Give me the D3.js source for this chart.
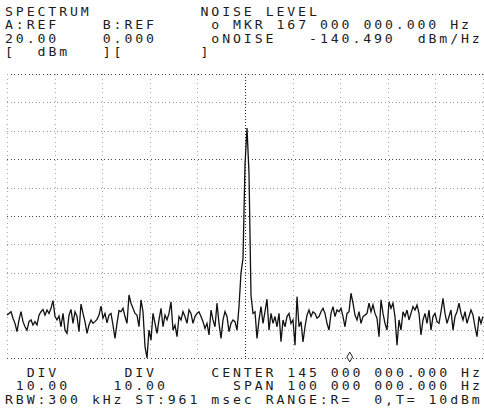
<!DOCTYPE html>
<html>
<head>
<meta charset="utf-8">
<script src="https://cdn.jsdelivr.net/npm/d3@7"></script>
<style>
  body { margin: 0; background: #fff; }
  text { font-family: "DejaVu Sans Mono", monospace; font-size: 11.5px; fill: #1c1c1c; letter-spacing: 2.5px; }
</style>
</head>
<body>
<div id="chart"></div>
<script>
// instrument settings
var centerMHz = 145, spanMHz = 100, refLevelDbm = 20, dbPerDiv = 10, nDiv = 10;
var markerMHz = 167;

// trace levels (dBm), evenly spaced across the span, left to right
var noiseSeg1 = [-64.9,-64.3,-63.7,-66.0,-67.8,-70.7,-66.6,-63.7,-67.2,-69.0,
    -70.2,-67.2,-66.6,-68.4,-67.2,-68.4,-64.9,-63.7,-62.9,-64.9,
    -63.1,-64.3,-62.5,-59.8,-65.4,-66.6,-65.2,-69.0,-64.3,-70.2,
    -71.3,-64.9,-62.9,-67.8,-63.7,-65.4,-70.7,-61.0,-64.3,-67.2,
    -71.3,-68.4,-66.6,-67.8,-67.2,-66.4,-64.9,-61.7,-66.0,-64.3,
    -67.6,-64.9,-64.3,-68.4,-73.1,-67.8,-63.3];
var noiseSeg2 = [-63.7,-62.5,-65.4,-67.8,-57.8,-60.7,-62.5,-64.3,-64.9,-69.0,
    -59.5,-63.7,-76.0,-80.0,-70.2,-73.7,-64.3,-67.8,-71.3,-66.6,
    -62.5,-69.0,-64.9,-66.6,-64.3,-60.2,-70.2,-68.4,-72.5,-65.4,
    -66.6,-63.7,-65.4,-67.8,-63.1,-64.3,-67.8,-65.4,-64.3,-63.7,
    -65.4,-67.2,-69.6,-67.8,-71.9,-63.1,-66.6,-69.0,-60.7,-67.8,
    -73.1,-66.6,-63.7,-65.4,-70.7,-67.8,-66.6,-67.2,-70.2,-61.9,
    -50.0];
var peakSeg = [-45, -12, 1, -15, -58];
var noiseSeg3 = [-64.3,-63.7,-73.1,-66.6,-61.9,-67.8,-63.7,-59.3,-70.2,-64.3,
    -67.8,-65.4,-69.0,-64.3,-74.3,-66.6,-69.0,-65.4,-64.3,-67.8,
    -66.6,-75.5,-58.4,-69.0,-67.2,-74.3,-69.0,-64.9,-63.1,-65.4,
    -63.7,-64.3,-66.0,-65.4,-63.7,-62.5,-64.3,-67.8,-70.2,-64.3,
    -61.9,-65.4,-63.1,-63.7,-62.5,-65.4,-69.0,-64.3,-63.7,-57.2,
    -60.7,-64.9,-66.6,-63.7,-67.8];
var noiseSeg4 = [-65.4,-64.9,-64.3,-60.7,-63.7,-61.3,-64.3,-66.0,-72.5,-59.5,
    -64.3,-67.8,-70.2,-60.2,-62.5,-60.7,-65.4,-75.5,-66.6,-70.2,
    -63.7,-65.4,-63.1,-66.6,-64.3,-61.9,-63.1,-61.3,-64.3,-71.9,
    -66.6,-64.3,-67.8,-63.1,-70.2,-65.4,-64.3,-67.2,-67.8,-63.7,
    -59.0,-64.3,-67.8,-65.4,-63.1,-70.2,-65.4,-63.7,-60.7,-64.3,
    -66.6,-63.7,-67.8,-65.4,-63.1,-64.9,-69.0,-72.5,-65.4,-67.8,
    -65.4];

// screen text, one string per character row
var headerRows = [
    "SPECTRUM          NOISE LEVEL",
    "A:REF    B:REF     o MKR 167 000 000.000 Hz",
    "20.00    0.000     oNOISE   -140.490  dBm/Hz",
    "[  dBm   ][       ]"
];
var footerRows = [
    "  DIV      DIV     CENTER 145 000 000.000 Hz",
    " 10.00    10.00      SPAN 100 000 000.000 Hz",
    "RBW:300 kHz ST:961 msec RANGE:R=  0,T= 10dBm"
];

var width = 484, height = 418;
var plot = { left: 7, right: 483, top: 74, bottom: 358 };
var pitch = 10.86, textX0 = 5, stretch = 1.15;

var svg = d3.select("#chart").append("svg")
    .attr("width", width)
    .attr("height", height);

var startMHz = centerMHz - spanMHz / 2,
    stopMHz = centerMHz + spanMHz / 2,
    bottomDbm = refLevelDbm - dbPerDiv * nDiv;

var x = d3.scaleLinear().domain([startMHz, stopMHz]).range([plot.left, plot.right]);
var y = d3.scaleLinear().domain([bottomDbm, refLevelDbm]).range([plot.bottom, plot.top]);

// dotted graticule
var hTicks = d3.range(nDiv + 1).map(function (i) { return bottomDbm + i * dbPerDiv; });
var vTicks = d3.range(nDiv + 1).map(function (i) { return startMHz + i * spanMHz / nDiv; });

var grid = svg.append("g").attr("class", "grid");

grid.selectAll(".hline")
    .data(hTicks)
    .enter().append("line")
    .attr("class", "hline")
    .attr("x1", plot.left)
    .attr("x2", plot.right)
    .attr("y1", function (d) { return Math.round(y(d)); })
    .attr("y2", function (d) { return Math.round(y(d)); })
    .style("stroke", function (d, i) { return (i == 5 || i == 7 || i == 0 || i == 10) ? "#444" : "#999"; })
    .style("stroke-dasharray", "1,2.6")
    .style("shape-rendering", "crispEdges");

grid.selectAll(".vline")
    .data(vTicks)
    .enter().append("line")
    .attr("class", "vline")
    .attr("y1", plot.top)
    .attr("y2", plot.bottom)
    .attr("x1", function (d) { return Math.round(x(d)); })
    .attr("x2", function (d) { return Math.round(x(d)); })
    .style("stroke", function (d) { return d == centerMHz ? "#222" : "#aaa"; })
    .style("stroke-dasharray", function (d) { return d == centerMHz ? "1,2" : "1,3.5"; })
    .style("shape-rendering", "crispEdges");

// trace
var levels = noiseSeg1.concat(noiseSeg2, peakSeg, noiseSeg3, noiseSeg4);
var step = spanMHz / (levels.length - 1);

var line = d3.line()
    .x(function (d, i) { return x(startMHz + i * step); })
    .y(function (d) { return y(Math.max(d, bottomDbm)); });

svg.append("path")
    .datum(levels)
    .attr("d", line)
    .style("fill", "none")
    .style("stroke", "#111")
    .style("stroke-width", 1.3)
    .style("stroke-linejoin", "miter");

// marker
svg.append("path")
    .attr("d", d3.symbol().type(d3.symbolDiamond).size(28))
    .attr("transform", "translate(" + x(markerMHz) + "," + (y(bottomDbm) - 1) + ")")
    .style("fill", "#fff")
    .style("stroke", "#222")
    .style("stroke-width", 1);

// character rows, glyphs stretched a little to look like the dot-matrix font
function drawRow(str, baseline) {
    var re = /\S+/g, m;
    while ((m = re.exec(str)) !== null) {
        svg.append("text")
            .attr("transform", "translate(" + (textX0 + m.index * pitch) + "," + baseline + ") scale(" + stretch + ",1)")
            .text(m[0]);
    }
}

headerRows.forEach(function (r, i) { drawRow(r, 16 + i * 13.4); });
footerRows.forEach(function (r, i) { drawRow(r, 377 + i * 13.4); });
</script>
</body>
</html>
